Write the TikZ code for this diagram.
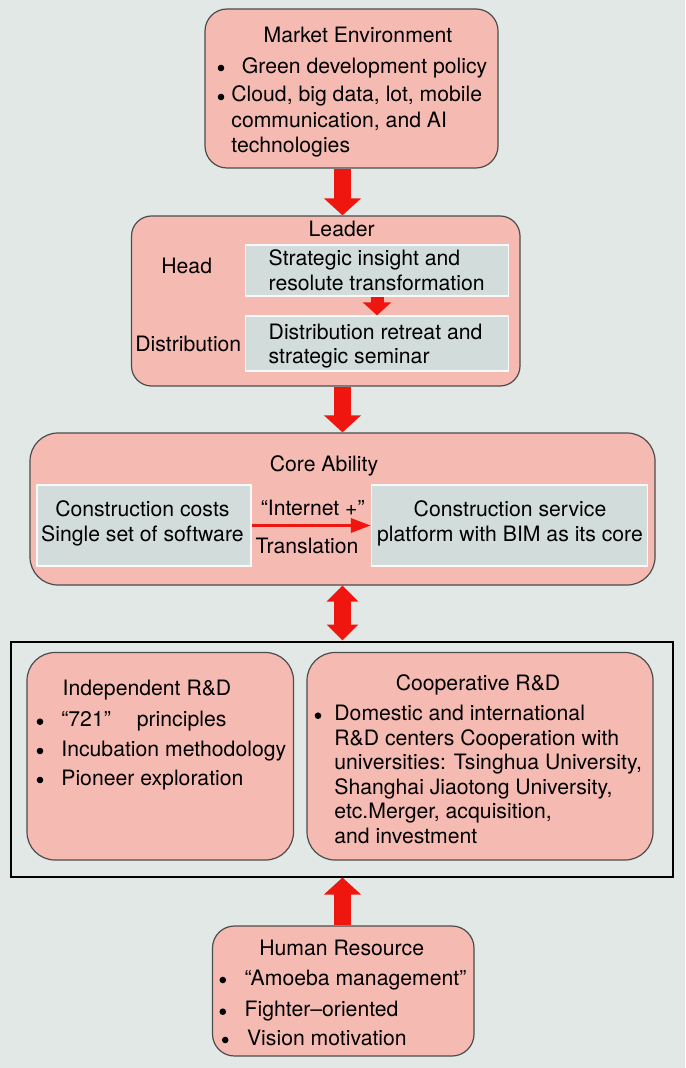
\documentclass[tikz,border=0pt]{standalone}
\usepackage{fontspec}
\setmainfont{TeX Gyre Heros}
\usetikzlibrary{arrows.meta}
\definecolor{bgcol}{RGB}{225,232,230}
\definecolor{boxpink}{RGB}{245,187,178}
\definecolor{boxgray}{RGB}{209,220,219}
\definecolor{arrowred}{RGB}{238,22,14}
% rows of text, #1 = column type, #2 = line distance
\newcommand{\rows}[3][l]{{\fontsize{10.6}{#2}\selectfont\begin{tabular}[t]{@{}#1@{}}#3\end{tabular}}}
\begin{document}
\begin{tikzpicture}[x=0.5pt,y=-0.5pt,
	panel/.style={draw=black!70,line width=0.6pt,fill=boxpink,rounded corners=11pt,inner sep=0pt},
	inset/.style={draw=white!85!boxgray,line width=0.7pt,fill=boxgray,inner sep=0pt},
	bul/.style={circle,fill=black,inner sep=0pt,minimum size=3.3pt},
	txt/.style={inner sep=0pt,font=\fontsize{10.6}{12.75}\selectfont},
	bigarrow/.style={draw=arrowred,line width=8.8pt,-{Triangle[length=8.5pt,width=18pt]}}]
	\fill[bgcol] (0,0) rectangle (685,1068);
	% boxes
	\node[panel,minimum width=146.5pt,minimum height=79.5pt] (market) at (351.5,88.5) {};
	\node[panel,rounded corners=10pt,minimum width=194.25pt,minimum height=85pt] (leader) at (325.75,301) {};
	\node[inset,minimum width=131.5pt,minimum height=25.5pt] (head) at (377,270.5) {};
	\node[inset,minimum width=131.5pt,minimum height=27.5pt] (dist) at (377,343.5) {};
	\node[panel,rounded corners=14pt,minimum width=312.5pt,minimum height=76pt] (core) at (342.5,509) {};
	\node[inset,minimum width=107pt,minimum height=40.5pt] (costs) at (144,525.5) {};
	\node[inset,minimum width=138pt,minimum height=40.5pt] (platform) at (509.5,525.5) {};
	\node[draw=black,line width=1pt,inner sep=0pt,minimum width=331.25pt,minimum height=117.5pt] (rd) at (341.75,759) {};
	\node[panel,rounded corners=14pt,minimum width=133.25pt,minimum height=103.75pt] (indep) at (160.25,756.25) {};
	\node[panel,rounded corners=14pt,minimum width=173pt,minimum height=103.75pt] (coop) at (480,756.25) {};
	\node[panel,minimum width=130.75pt,minimum height=65pt] (hr) at (343.25,991) {};

	% market environment
	\node[txt,anchor=base] (mtitle) at (358,43) {Market Environment};
	\node[bul] (mb1) at (221,68) {};
	\node[txt,anchor=base west] (mt1) at (241.5,73.3) {Green development policy};
	\node[bul] (mb2) at (221,97) {};
	\node[txt,anchor=base west] (mt2) at (231,101.7) {\rows{12.75pt}{Cloud, big data, lot, mobile\\communication, and AI\\technologies}};

	% leader
	\node[txt,anchor=base] (ltitle) at (341.7,236.7) {Leader};
	\node[txt,anchor=base] (lhead) at (186.7,273.3) {Head};
	\node[txt,anchor=base] (ldist) at (188.3,351.7) {Distribution};
	\node[txt,anchor=base west] (htext) at (268.3,266) {\rows{12.35pt}{Strategic insight and\\resolute transformation}};
	\node[txt,anchor=base west] (dtext) at (268.3,339.3) {\rows{12.35pt}{Distribution retreat and\\strategic seminar}};

	% core ability
	\node[txt,anchor=base] (ctitle) at (324,471.7) {Core Ability};
	\node[txt,anchor=base] (ctext) at (142.4,516.7) {\rows[c]{12.5pt}{Construction costs\\Single set of software}};
	\node[txt,anchor=base] (ptext) at (510,516.7) {\rows[c]{12.5pt}{Construction service\\platform with BIM as its core}};
	\node[txt,anchor=base] (inet) at (312.7,515) {“Internet +”};
	\node[txt,anchor=base] (trans) at (307,553.3) {Translation};

	% R&D
	\node[txt,anchor=base] (ititle) at (147,695) {Independent R\&D};
	\foreach \y/\t [count=\i] in {726.7/{“721”\hspace{13pt}principles},756/{Incubation methodology},785/{Pioneer exploration}}{
		\node[bul] (ib\i) at (40,\y-5) {};
		\node[txt,anchor=base west] (it\i) at (61,\y) {\t};
	}
	\node[txt,anchor=base] (otitle) at (478,690) {Cooperative R\&D};
	\node[bul] (ob1) at (318,715.7) {};
	\node[txt,anchor=base west] (ot1) at (334,720.7) {\rows{12.25pt}{Domestic and international\\R\&D centers Cooperation with\\universities: Tsinghua University,\\Shanghai Jiaotong University,\\etc.Merger, acquisition,\\and investment}};

	% human resource
	\node[txt,anchor=base] (htitle) at (341.7,955) {Human Resource};
	\foreach \x/\y/\t [count=\i] in {244.3/985/{“Amoeba management”},244.3/1016.7/{Fighter–oriented},246.7/1045/{Vision motivation}}{
		\node[bul] (hb\i) at (\x-21.5,\y-5) {};
		\node[txt,anchor=base west] (ht\i) at (\x,\y) {\t};
	}

	% arrows
	\draw[bigarrow] (market.south -| core.north) -- (leader.north -| core.north);
	\draw[bigarrow] (leader.south -| core.north) -- (core.north);
	\draw[draw=arrowred,line width=6.5pt,-{Triangle[length=6.5pt,width=14pt]}] (head.south) -- (dist.north);
	\draw[draw=arrowred,line width=1.7pt,-{Triangle[length=10pt,width=7pt]}] (costs.east) -- (platform.west);
	\draw[draw=arrowred,line width=8.5pt,{Triangle[length=8pt,width=15.5pt]}-{Triangle[length=8pt,width=15.5pt]}] (core.south) -- (rd.north -| core.south);
	\draw[bigarrow] (hr.north -| core.south) -- (rd.south -| core.south);
\end{tikzpicture}
\end{document}
